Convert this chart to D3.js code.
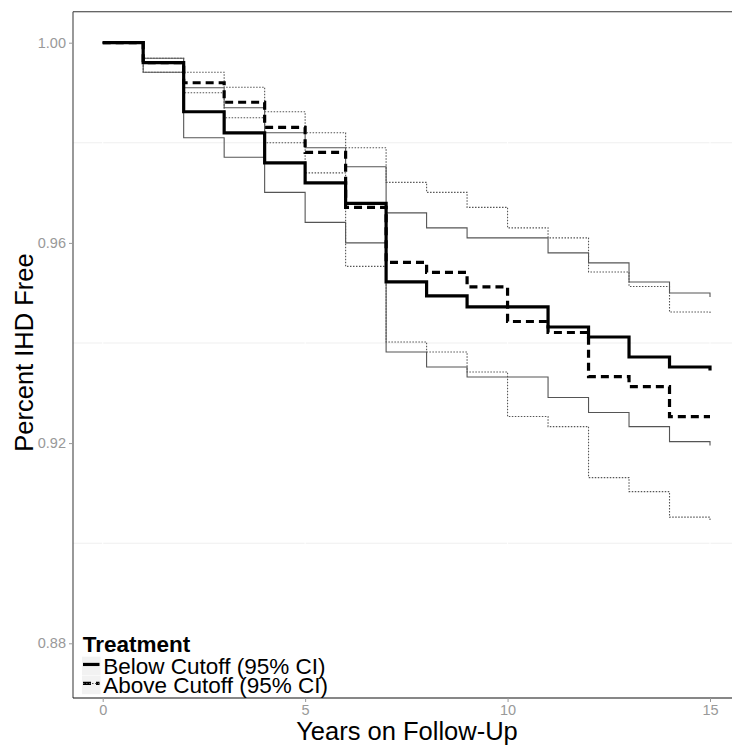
<!DOCTYPE html>
<html>
<head>
<meta charset="utf-8">
<script src="https://cdn.jsdelivr.net/npm/d3@7"></script>
<style>
  html, body { margin: 0; padding: 0; background: #fff; }
  svg { display: block; font-family: "Liberation Sans", Arial, sans-serif; }
</style>
</head>
<body>
<svg id="chart" width="732" height="749"></svg>
<script>
// ---- Data ----
const years = [0, 1, 2, 3, 4, 5, 6, 7, 8, 9, 10, 11, 12, 13, 14, 15];

const belowEst   = [1.000, 0.9960, 0.9862, 0.9820, 0.9760, 0.9720, 0.9679, 0.9522, 0.9494, 0.9472, 0.9472, 0.9432, 0.9412, 0.9372, 0.9352, 0.9345];
const belowUpper = [1.000, 0.9969, 0.9910, 0.9870, 0.9820, 0.9790, 0.9752, 0.9660, 0.9630, 0.9610, 0.9610, 0.9580, 0.9560, 0.9522, 0.9500, 0.9492];
const belowLower = [1.000, 0.9941, 0.9810, 0.9771, 0.9701, 0.9641, 0.9600, 0.9382, 0.9352, 0.9332, 0.9332, 0.9291, 0.9261, 0.9233, 0.9203, 0.9195];

const aboveEst   = [1.000, 0.9960, 0.9920, 0.9881, 0.9831, 0.9781, 0.9671, 0.9561, 0.9541, 0.9512, 0.9443, 0.9421, 0.9333, 0.9313, 0.9253, 0.9253];
const aboveUpper = [1.000, 0.9969, 0.9941, 0.9911, 0.9862, 0.9820, 0.9790, 0.9721, 0.9701, 0.9671, 0.9630, 0.9610, 0.9542, 0.9513, 0.9462, 0.9459];
const aboveLower = [1.000, 0.9941, 0.9900, 0.9850, 0.9800, 0.9740, 0.9553, 0.9402, 0.9382, 0.9342, 0.9253, 0.9233, 0.9131, 0.9103, 0.9052, 0.9045];

const xTicks = [0, 5, 10, 15];
const yTicks = [0.88, 0.92, 0.96, 1.00];
const yMinorGrid = [0.90, 0.94, 0.98];

const legendTitle = "Treatment";
const legendLabels = ["Below Cutoff (95% CI)", "Above Cutoff (95% CI)"];
const xTitle = "Years on Follow-Up";
const yTitle = "Percent IHD Free";

// ---- Layout ----
const panel = { left: 73, right: 740, top: 11.7, bottom: 698 };
const x = d3.scaleLinear().domain([0, 15]).range([102.7, 710]);
const y = d3.scaleLinear().domain([0.88, 1.00]).range([643.3, 42.7]);

const svg = d3.select("#chart");

// panel background
svg.append("rect")
  .attr("x", panel.left).attr("y", panel.top)
  .attr("width", panel.right - panel.left).attr("height", panel.bottom - panel.top)
  .attr("fill", "#fff");

// minor horizontal grid
svg.append("g").selectAll("line").data(yMinorGrid).join("line")
  .attr("x1", panel.left).attr("x2", panel.right)
  .attr("y1", d => y(d)).attr("y2", d => y(d))
  .attr("stroke", "#efefef").attr("stroke-width", 1.1);

// major vertical grid (white)
svg.append("g").selectAll("line").data(xTicks).join("line")
  .attr("x1", d => x(d)).attr("x2", d => x(d))
  .attr("y1", panel.top).attr("y2", panel.bottom)
  .attr("stroke", "#fff").attr("stroke-width", 1.1);

// ---- Series ----
const line = d3.line()
  .x((d, i) => x(years[i]))
  .y(d => y(d))
  .curve(d3.curveStepAfter);

const g = svg.append("g");
function drawSeries(vals, opts) {
  g.append("path")
    .datum(vals)
    .attr("d", line)
    .attr("fill", "none")
    .attr("stroke", opts.color)
    .attr("stroke-width", opts.width)
    .attr("stroke-dasharray", opts.dash || null)
    .attr("stroke-linejoin", "miter")
    .attr("stroke-linecap", "butt");
}
drawSeries(belowUpper, { color: "#555", width: 1.1 });
drawSeries(belowLower, { color: "#555", width: 1.1 });
drawSeries(aboveUpper, { color: "#555", width: 1.1, dash: "1.5,1.5" });
drawSeries(aboveLower, { color: "#555", width: 1.1, dash: "1.5,1.5" });
drawSeries(belowEst, { color: "#000", width: 3.2 });
drawSeries(aboveEst, { color: "#000", width: 3.2, dash: "8,5" });

// ---- Panel border / axes ----
svg.append("line").attr("x1", panel.left).attr("x2", panel.right)
  .attr("y1", panel.top).attr("y2", panel.top)
  .attr("stroke", "#333").attr("stroke-width", 1.1);
svg.append("line").attr("x1", panel.left).attr("x2", panel.left)
  .attr("y1", panel.top).attr("y2", panel.bottom)
  .attr("stroke", "#444").attr("stroke-width", 1.1);
svg.append("line").attr("x1", panel.left).attr("x2", panel.right)
  .attr("y1", panel.bottom).attr("y2", panel.bottom)
  .attr("stroke", "#111").attr("stroke-width", 1.1);

// y axis ticks
const yAxis = d3.axisLeft(y).tickValues(yTicks).tickFormat(d3.format(".2f")).tickSize(4).tickPadding(3);
const ya = svg.append("g").attr("transform", `translate(${panel.left},0)`).call(yAxis);
ya.select(".domain").remove();
ya.selectAll(".tick line").attr("stroke", "#999");
ya.selectAll(".tick text").attr("fill", "#999").attr("font-size", 14.5)
  .attr("font-family", "'Liberation Sans', Arial, sans-serif");

// x axis ticks
const xAxis = d3.axisBottom(x).tickValues(xTicks).tickFormat(d3.format("d")).tickSize(4).tickPadding(3);
const xa = svg.append("g").attr("transform", `translate(0,${panel.bottom})`).call(xAxis);
xa.select(".domain").remove();
xa.selectAll(".tick line").attr("stroke", "#999");
xa.selectAll(".tick text").attr("fill", "#999").attr("font-size", 14.5)
  .attr("font-family", "'Liberation Sans', Arial, sans-serif");

// axis titles
svg.append("text").attr("x", 407).attr("y", 740)
  .attr("text-anchor", "middle").attr("font-size", 25.5).attr("fill", "#000")
  .text(xTitle);
svg.append("text").attr("transform", "translate(33,352.5) rotate(-90)")
  .attr("text-anchor", "middle").attr("font-size", 25.5).attr("fill", "#000")
  .text(yTitle);

// ---- Legend ----
const lg = svg.append("g");
lg.append("text").attr("x", 82.7).attr("y", 651.7)
  .attr("font-size", 22.5).attr("font-weight", "bold").attr("fill", "#000")
  .text(legendTitle);
const keyY = [656.7, 675.7];
const keySize = 18.5;
legendLabels.forEach((lab, i) => {
  lg.append("rect").attr("x", 82).attr("y", keyY[i]).attr("width", keySize).attr("height", keySize)
    .attr("fill", "#f2f2f2");
  const cy = keyY[i] + keySize / 2 - 1.5;
  if (i === 0) {
    lg.append("line").attr("x1", 83).attr("x2", 99.5).attr("y1", cy).attr("y2", cy)
      .attr("stroke", "#000").attr("stroke-width", 3.2);
  } else {
    lg.append("line").attr("x1", 83).attr("x2", 99.5).attr("y1", cy).attr("y2", cy)
      .attr("stroke", "#000").attr("stroke-width", 3.2).attr("stroke-dasharray", "8,5");
    lg.append("line").attr("x1", 83).attr("x2", 99.5).attr("y1", cy).attr("y2", cy)
      .attr("stroke", "#555").attr("stroke-width", 1.1).attr("stroke-dasharray", "1.5,1.5");
  }
  lg.append("text").attr("x", 103.3).attr("y", i === 0 ? 674.3 : 692.7)
    .attr("font-size", 22.5).attr("fill", "#000").text(lab);
});
</script>
</body>
</html>
